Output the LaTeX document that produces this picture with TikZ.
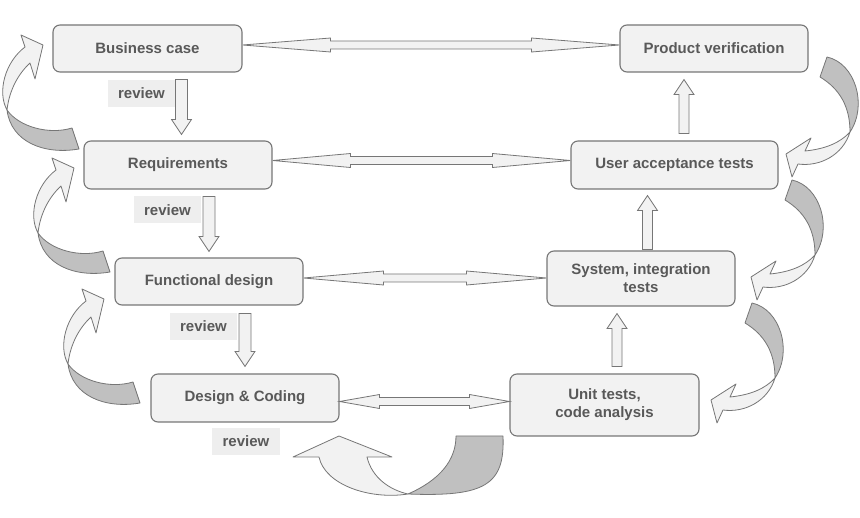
\documentclass[tikz,border=0pt]{standalone}
\usepackage{fontspec}
\setmainfont{Liberation Sans}
\usetikzlibrary{calc}
\definecolor{boxfill}{HTML}{F2F2F2}
\definecolor{boxline}{HTML}{767676}
\definecolor{backfill}{HTML}{C0C0C0}
\definecolor{labelgray}{HTML}{595959}
\definecolor{reviewfill}{HTML}{EEEEEE}
\tikzset{phase box/.style={draw=boxline, fill=boxfill, line width=1.1pt, rounded corners=7pt, inner sep=0pt, minimum width=189pt, minimum height=47pt, align=center, text=labelgray, font=\bfseries\fontsize{15}{18}\selectfont}}
\tikzset{review label/.style={fill=reviewfill, inner sep=0pt, minimum width=67pt, minimum height=27pt, text=labelgray, font=\bfseries\fontsize{15}{18}\selectfont}}
\tikzset{block arrow/.style={draw=boxline, fill=boxfill, line width=0.8pt}}
\tikzset{curve front/.style={draw=boxline, fill=boxfill, line width=0.8pt, line join=round}}
\tikzset{curve back/.style={draw=boxline, fill=backfill, line width=0.8pt, line join=round}}

\begin{document}
\begin{tikzpicture}[x=1pt, y=-1pt]
\useasboundingbox (0,0) rectangle (860,518);

% left side, going down
\node[phase box] (bc) at (147.5,48.5) {Business case};
\node[phase box, minimum width=188pt, minimum height=48pt] (req) at (178,165) {Requirements};
\node[phase box, minimum width=188pt] (fd) at (209,281.5) {Functional design};
\node[phase box, minimum width=188pt, minimum height=48pt] (dc) at (245,398) {Design \& Coding};

% right side, going up
\node[phase box, minimum height=62pt] (uta) at (604.5,405) {Unit tests,\\code analysis};
\node[phase box, minimum width=188pt, minimum height=55pt] (sit) at (641,278.5) {System, integration\\tests};
\node[phase box, minimum width=207pt, minimum height=48pt] (uat) at (674.5,165) {User acceptance tests};
\node[phase box, minimum width=188pt] (pv) at (714,48.5) {Product verification};

\node[review label] (rv1) at (141.5,93.5) {review};
\node[review label] (rv2) at (167.5,210) {review};
\node[review label] (rv3) at (203.5,326.5) {review};
\node[review label, minimum width=68pt] (rv4) at (246,441.5) {review};

% down arrows
\coordinate (d1) at ($(bc.south)+(34,7)$);
\coordinate (d1t) at ($(d1 |- req.north)+(0,-6)$);
\draw[block arrow] ($(d1)+(-6,0)$) -- ($(d1)+(6,0)$) -- ($(d1t)+(6,-15)$) -- ($(d1t)+(10,-15)$) -- (d1t) -- ($(d1t)+(-10,-15)$) -- ($(d1t)+(-6,-15)$) -- cycle;
\coordinate (d2) at ($(req.south)+(31,7)$);
\coordinate (d2t) at ($(d2 |- fd.north)+(0,-6)$);
\draw[block arrow] ($(d2)+(-6,0)$) -- ($(d2)+(6,0)$) -- ($(d2t)+(6,-15)$) -- ($(d2t)+(10,-15)$) -- (d2t) -- ($(d2t)+(-10,-15)$) -- ($(d2t)+(-6,-15)$) -- cycle;
\coordinate (d3) at ($(fd.south)+(36,8)$);
\coordinate (d3t) at ($(d3 |- dc.north)+(0,-7)$);
\draw[block arrow] ($(d3)+(-6,0)$) -- ($(d3)+(6,0)$) -- ($(d3t)+(6,-15)$) -- ($(d3t)+(10,-15)$) -- (d3t) -- ($(d3t)+(-10,-15)$) -- ($(d3t)+(-6,-15)$) -- cycle;

% up arrows
\coordinate (u1) at ($(uta.north)+(12.5,-7)$);
\coordinate (u1t) at ($(u1 |- sit.south)+(0,7)$);
\draw[block arrow] ($(u1)+(-5,0)$) -- ($(u1)+(5,0)$) -- ($(u1t)+(5,15)$) -- ($(u1t)+(10,15)$) -- (u1t) -- ($(u1t)+(-10,15)$) -- ($(u1t)+(-5,15)$) -- cycle;
\coordinate (u2) at ($(sit.north)+(6.5,-1)$);
\coordinate (u2t) at ($(u2 |- uat.south)+(0,6)$);
\draw[block arrow] ($(u2)+(-5,0)$) -- ($(u2)+(5,0)$) -- ($(u2t)+(5,15)$) -- ($(u2t)+(10,15)$) -- (u2t) -- ($(u2t)+(-10,15)$) -- ($(u2t)+(-5,15)$) -- cycle;
\coordinate (u3) at ($(uat.north)+(9.5,-7)$);
\coordinate (u3t) at ($(u3 |- pv.south)+(0,7)$);
\draw[block arrow] ($(u3)+(-5,0)$) -- ($(u3)+(5,0)$) -- ($(u3t)+(5,15)$) -- ($(u3t)+(10,15)$) -- (u3t) -- ($(u3t)+(-10,15)$) -- ($(u3t)+(-5,15)$) -- cycle;

% two way arrows
\coordinate (h1a) at ($(bc.east)+(0,-3.5)$);
\coordinate (h1b) at (pv.west |- h1a);
\draw[block arrow] (h1a) -- ++(88,-7) -- ++(0,3) -- ($(h1b)+(-88,-4)$) -- ++(0,-3) -- (h1b) -- ++(-88,7) -- ++(0,-3) -- ($(h1a)+(88,4)$) -- ++(0,3) -- cycle;
\coordinate (h2a) at ($(req.east)+(0,-4.5)$);
\coordinate (h2b) at (uat.west |- h2a);
\draw[block arrow] (h2a) -- ++(78,-7) -- ++(0,3) -- ($(h2b)+(-78,-4)$) -- ++(0,-3) -- (h2b) -- ++(-78,7) -- ++(0,-3) -- ($(h2a)+(78,4)$) -- ++(0,3) -- cycle;
\coordinate (h3a) at ($(fd.east)+(0,-3.5)$);
\coordinate (h3b) at (sit.west |- h3a);
\draw[block arrow] (h3a) -- ++(80,-7) -- ++(0,3) -- ($(h3b)+(-80,-4)$) -- ++(0,-3) -- (h3b) -- ++(-80,7) -- ++(0,-3) -- ($(h3a)+(80,4)$) -- ++(0,3) -- cycle;
\coordinate (h4a) at ($(dc.east)+(0,3.5)$);
\coordinate (h4b) at (uta.west |- h4a);
\draw[block arrow] (h4a) -- ++(40,-7) -- ++(0,3) -- ($(h4b)+(-40,-4)$) -- ++(0,-3) -- (h4b) -- ++(-40,7) -- ++(0,-3) -- ($(h4a)+(40,4)$) -- ++(0,3) -- cycle;

% curved arrows, left side
\foreach \dx/\dy in {-31/-123, 0/0, 30/131} {
\begin{scope}[shift={(\dx,\dy)}]
\draw[curve back] (38,233) .. controls (42,265) and (75,278) .. (110,272) -- (103,251) .. controls (80,258) and (50,250) .. (38,233) -- cycle;
\draw[curve front] (38,233) .. controls (28,215) and (36,185) .. (56,170) -- (52,158) -- (74,168) -- (66,202) -- (61,186) .. controls (48,198) and (40,215) .. (38,233) -- cycle;
\end{scope}
}

% curved arrows, right side
\foreach \dx/\dy in {35/-123, 0/0, -40/123} {
\begin{scope}[shift={(\dx,\dy)}]
\draw[curve back] (792,180) .. controls (820,186) and (833,228) .. (815,255) .. controls (815,230) and (805,212) .. (785,200) -- cycle;
\draw[curve front] (815,255) .. controls (805,266) and (790,272) .. (770,274) -- (776,261) -- (751,277) -- (757,300) -- (763,287) .. controls (785,290) and (808,278) .. (815,255) -- cycle;
\end{scope}
}

% curved arrow, bottom
\draw[curve back] (456,436) -- (503,436) .. controls (505,485) and (485,497) .. (408,494) .. controls (440,480) and (456,460) .. (456,436) -- cycle;
\draw[curve front] (408,494) .. controls (370,500) and (325,485) .. (319,457) -- (293,457) -- (339,436) -- (392,457) -- (367,457) .. controls (372,478) and (390,490) .. (408,494) -- cycle;

\end{tikzpicture}
\end{document}
